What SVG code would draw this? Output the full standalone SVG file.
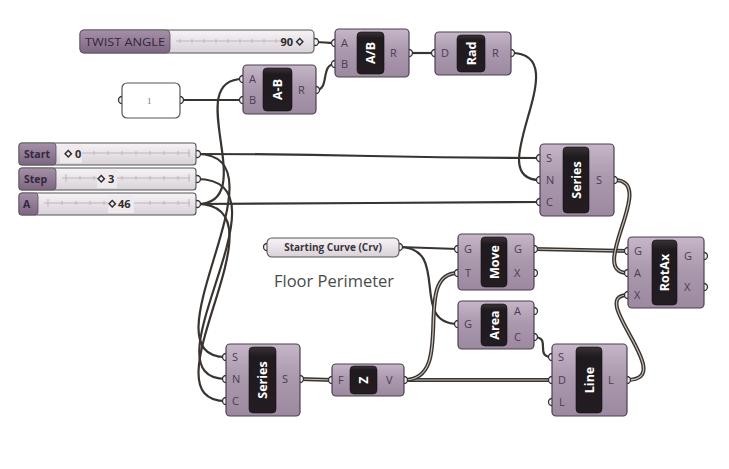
<svg xmlns="http://www.w3.org/2000/svg" width="729" height="469" viewBox="0 0 729 469">
<defs>
<linearGradient id="body" x1="0" y1="0" x2="0" y2="1">
<stop offset="0" stop-color="#c6b6c8"/><stop offset="0.45" stop-color="#ab99ae"/><stop offset="1" stop-color="#9c89a0"/>
</linearGradient>
<linearGradient id="blk" x1="0" y1="0" x2="0" y2="1">
<stop offset="0" stop-color="#3a3238"/><stop offset="0.15" stop-color="#1f1a1e"/><stop offset="1" stop-color="#231c21"/>
</linearGradient>
<linearGradient id="sld" x1="0" y1="0" x2="0" y2="1">
<stop offset="0" stop-color="#f6f3f6"/><stop offset="1" stop-color="#d9d2d9"/>
</linearGradient>
<linearGradient id="lab" x1="0" y1="0" x2="0" y2="1">
<stop offset="0" stop-color="#a690a9"/><stop offset="1" stop-color="#7d6682"/>
</linearGradient>
</defs>
<style>
.body{fill:url(#body);stroke:#4a4050;stroke-width:1.2}
.blk{fill:url(#blk);stroke:#111;stroke-width:0.6}
.grip{fill:#f4f2f4;stroke:#333;stroke-width:1.3}
.pin{font-family:"Open Sans","DejaVu Sans",sans-serif;font-size:11px;fill:#4b3b57}
.nm{font-family:"Open Sans","DejaVu Sans",sans-serif;font-size:12.5px;font-weight:bold;fill:#fff;text-anchor:middle;dominant-baseline:central}
.sl{fill:url(#sld);stroke:#555;stroke-width:1.1}
.lab{fill:url(#lab);stroke:#555;stroke-width:0.8}
.st{font-family:"Open Sans","DejaVu Sans",sans-serif;font-size:10.5px;font-weight:bold;fill:#33283a}
.val{font-family:"Open Sans","DejaVu Sans",sans-serif;font-size:11px;font-weight:bold;fill:#2e2a2e}
.dia{fill:none;stroke:#2e2a2e;stroke-width:1.4}
.tick{stroke:#b4acb4;stroke-width:0.8;fill:none}
.w{fill:none;stroke:#3a3431;stroke-width:2.2}
.wo{fill:none;stroke:#3a3431;stroke-width:4}
.wi{fill:none;stroke:#c9c1ba;stroke-width:1.2}
</style>
<rect width="729" height="469" fill="#ffffff"/>

<g id="connectors">
<path class="w" d="M315,42 C325,42 325,43 335,43"/>
<path class="w" d="M180,100 L243,100"/>
<path class="w" d="M316,90 C330,90 320,64 335,64"/>
<path class="w" d="M409,53 L435,53"/>
<path class="w" d="M511,53 C580,53 478,180 540,180"/>
<path class="w" d="M197,154 C370,154 370,158 540,158"/>
<path class="w" d="M197,204 C370,204 370,202 540,202"/>
<path class="w" d="M197,204 C262,204 180,79 243,79"/>
<path class="w" d="M197,154 C292,154 140,357 226,357"/>
<path class="w" d="M197,179 C298,179 140,379 226,379"/>
<path class="w" d="M197,204 C292,204 140,401 226,401"/>
<path class="w" d="M399,247 L458,249"/>
<path class="w" d="M399,247 C452,247 408,324 458,324"/>
<path class="w" d="M534,337 C552,337 534,357 552,357"/>
<g>
<path class="wo" d="M300,379 L332,380"/><path class="wi" d="M300,379 L332,380"/>
<path class="wo" d="M404,380 L552,380"/><path class="wi" d="M404,380 L552,380"/>
<path class="wo" d="M404,380 C458,380 410,273 458,273"/><path class="wi" d="M404,380 C458,380 410,273 458,273"/>
<path class="wo" d="M534,249 L628,251"/><path class="wi" d="M534,249 L628,251"/>
<path class="wo" d="M614,180 C660,180 585,273 628,273"/><path class="wi" d="M614,180 C660,180 585,273 628,273"/>
<path class="wo" d="M627,380 C680,380 585,295 628,295"/><path class="wi" d="M627,380 C680,380 585,295 628,295"/>
</g>
</g>

<g id="twist-angle">
<circle class="grip" cx="315" cy="42" r="3.5"/>
<rect class="sl" x="80" y="30" width="234" height="23" rx="4"/>
<rect class="lab" x="80" y="30" width="90" height="23" rx="4"/>
<text x="85" y="46" font-family="'Open Sans','DejaVu Sans',sans-serif" font-size="11.5" fill="#33283a" textLength="80" lengthAdjust="spacingAndGlyphs">TWIST ANGLE</text>
<path class="tick" d="M176,41 H286 M180,39 V43 M192,39 V43 M204,39 V43 M216,39 V43 M228,39 V43 M240,39 V43 M252,39 V43 M264,39 V43 M276,39 V43"/>
<text class="val" x="293" y="46" text-anchor="end">90</text>
<rect class="dia" x="297.5" y="39.5" width="4.5" height="4.5" transform="rotate(45 299.75 41.75)"/>
</g>

<g id="panel-1">
<circle class="grip" cx="122" cy="100" r="3.5"/>
<circle class="grip" cx="180" cy="100" r="3.5"/>
<rect x="122" y="83" width="58" height="35" rx="5" fill="#fff" stroke="#555" stroke-width="1.2"/>
<text x="147" y="104" font-family="'Liberation Serif',serif" font-size="9" fill="#777">1</text>
</g>

<g id="a-minus-b">
<circle class="grip" cx="243" cy="79" r="3.5"/><circle class="grip" cx="243" cy="100" r="3.5"/><circle class="grip" cx="316" cy="90" r="3.5"/>
<rect class="body" x="243" y="65" width="73" height="49" rx="4"/>
<rect class="blk" x="263" y="68" width="29" height="43" rx="4"/>
<text class="pin" x="249" y="83">A</text><text class="pin" x="249" y="104">B</text><text class="pin" x="298" y="94">R</text>
<text class="nm" transform="translate(277.5 89.5) rotate(-90)">A-B</text>
</g>

<g id="a-div-b">
<circle class="grip" cx="335" cy="43" r="3.5"/><circle class="grip" cx="335" cy="64" r="3.5"/><circle class="grip" cx="409" cy="53" r="3.5"/>
<rect class="body" x="335" y="29" width="74" height="48" rx="4"/>
<rect class="blk" x="357" y="32" width="27" height="42" rx="4"/>
<text class="pin" x="341" y="47">A</text><text class="pin" x="341" y="68">B</text><text class="pin" x="390" y="57">R</text>
<text class="nm" transform="translate(370.5 53) rotate(-90)">A/B</text>
</g>

<g id="rad">
<circle class="grip" cx="435" cy="53" r="3.5"/><circle class="grip" cx="511" cy="53" r="3.5"/>
<rect class="body" x="435" y="32" width="76" height="43" rx="4"/>
<rect class="blk" x="457" y="35" width="28" height="37" rx="4"/>
<text class="pin" x="441" y="57">D</text><text class="pin" x="492" y="57">R</text>
<text class="nm" transform="translate(471 53.5) rotate(-90)">Rad</text>
</g>

<g id="slider-start">
<circle class="grip" cx="197" cy="154" r="3.5"/>
<rect class="sl" x="19" y="143" width="177" height="22" rx="3"/>
<rect class="lab" x="19" y="143" width="37" height="22" rx="3"/>
<text class="st" x="24" y="158">Start</text>
<path class="tick" d="M62,153 H190 M80,151 V155 M94,151 V155 M108,151 V155 M122,151 V155 M136,151 V155 M150,151 V155 M164,151 V155 M178,151 V155 M189,149 V157"/>
<rect x="60" y="145" width="22" height="18" fill="#eeeaee"/>
<rect class="dia" x="66" y="151.5" width="4.5" height="4.5" transform="rotate(45 68.25 153.75)"/>
<text class="val" x="75" y="158">0</text>
</g>

<g id="slider-step">
<circle class="grip" cx="197" cy="179" r="3.5"/>
<rect class="sl" x="19" y="168" width="177" height="22" rx="3"/>
<rect class="lab" x="19" y="168" width="37" height="22" rx="3"/>
<text class="st" x="24" y="183">Step</text>
<path class="tick" d="M62,178 H190 M66,174 V182 M80,176 V180 M94,176 V180 M108,176 V180 M122,176 V180 M136,176 V180 M150,176 V180 M164,176 V180 M178,176 V180 M189,174 V182"/>
<rect x="97" y="170" width="20" height="18" fill="#eeeaee"/>
<rect class="dia" x="99" y="176.5" width="4.5" height="4.5" transform="rotate(45 101.25 178.75)"/>
<text class="val" x="108" y="183">3</text>
</g>

<g id="slider-a">
<circle class="grip" cx="197" cy="204" r="3.5"/>
<rect class="sl" x="19" y="193" width="177" height="22" rx="3"/>
<rect class="lab" x="19" y="193" width="19" height="22" rx="3"/>
<text class="st" x="23" y="208">A</text>
<path class="tick" d="M44,203 H190 M48,199 V207 M62,201 V205 M76,201 V205 M90,201 V205 M104,201 V205 M150,201 V205 M164,201 V205 M178,201 V205 M189,199 V207"/>
<rect x="108" y="195" width="26" height="18" fill="#eeeaee"/>
<rect class="dia" x="110" y="201.5" width="4.5" height="4.5" transform="rotate(45 112.25 203.75)"/>
<text class="val" x="118" y="208">46</text>
</g>

<g id="series-top">
<circle class="grip" cx="540" cy="158" r="3.5"/><circle class="grip" cx="540" cy="180" r="3.5"/><circle class="grip" cx="540" cy="202" r="3.5"/><circle class="grip" cx="614" cy="180" r="3.5"/>
<rect class="body" x="540" y="144" width="74" height="72" rx="4"/>
<rect class="blk" x="563" y="147" width="26" height="66" rx="4"/>
<text class="pin" x="546" y="162">S</text><text class="pin" x="546" y="184">N</text><text class="pin" x="546" y="206">C</text><text class="pin" x="596" y="184">S</text>
<text class="nm" transform="translate(576 180) rotate(-90)">Series</text>
</g>

<g id="starting-curve">
<circle class="grip" cx="267" cy="247" r="3.5"/><circle class="grip" cx="399" cy="247" r="3.5"/>
<rect class="sl" x="267" y="238" width="132" height="19" rx="5"/>
<text x="333" y="251" text-anchor="middle" font-family="'Open Sans','DejaVu Sans',sans-serif" font-size="10" font-weight="bold" fill="#3a343a">Starting Curve (Crv)</text>
</g>

<text x="274" y="287" font-family="'Open Sans','DejaVu Sans',sans-serif" font-size="16.5" fill="#4a4a4a">Floor Perimeter</text>

<g id="move">
<circle class="grip" cx="458" cy="249" r="3.5"/><circle class="grip" cx="458" cy="273" r="3.5"/><circle class="grip" cx="534" cy="249" r="3.5"/><circle class="grip" cx="534" cy="273" r="3.5"/>
<rect class="body" x="458" y="234" width="76" height="56" rx="4"/>
<rect class="blk" x="481" y="237" width="26" height="50" rx="4"/>
<text class="pin" x="464" y="253">G</text><text class="pin" x="465" y="277">T</text><text class="pin" x="514" y="253">G</text><text class="pin" x="514" y="277">X</text>
<text class="nm" transform="translate(494 262) rotate(-90)">Move</text>
</g>

<g id="area">
<circle class="grip" cx="458" cy="324" r="3.5"/><circle class="grip" cx="534" cy="311" r="3.5"/><circle class="grip" cx="534" cy="337" r="3.5"/>
<rect class="body" x="458" y="301" width="76" height="48" rx="4"/>
<rect class="blk" x="481" y="304" width="26" height="42" rx="4"/>
<text class="pin" x="464" y="328">G</text><text class="pin" x="514" y="315">A</text><text class="pin" x="514" y="341">C</text>
<text class="nm" transform="translate(494 325) rotate(-90)">Area</text>
</g>

<g id="rotax">
<circle class="grip" cx="628" cy="251" r="3.5"/><circle class="grip" cx="628" cy="273" r="3.5"/><circle class="grip" cx="628" cy="295" r="3.5"/><circle class="grip" cx="704" cy="256" r="3.5"/><circle class="grip" cx="704" cy="287" r="3.5"/>
<rect class="body" x="628" y="237" width="76" height="71" rx="4"/>
<rect class="blk" x="652" y="240" width="25" height="65" rx="4"/>
<text class="pin" x="634" y="255">G</text><text class="pin" x="634" y="277">A</text><text class="pin" x="634" y="299">X</text><text class="pin" x="684" y="260">G</text><text class="pin" x="684" y="291">X</text>
<text class="nm" transform="translate(664.5 272.5) rotate(-90)">RotAx</text>
</g>

<g id="series-bottom">
<circle class="grip" cx="226" cy="357" r="3.5"/><circle class="grip" cx="226" cy="379" r="3.5"/><circle class="grip" cx="226" cy="401" r="3.5"/><circle class="grip" cx="300" cy="379" r="3.5"/>
<rect class="body" x="226" y="344" width="74" height="72" rx="4"/>
<rect class="blk" x="249" y="347" width="27" height="66" rx="4"/>
<text class="pin" x="232" y="361">S</text><text class="pin" x="232" y="383">N</text><text class="pin" x="232" y="405">C</text><text class="pin" x="282" y="383">S</text>
<text class="nm" transform="translate(262.5 380) rotate(-90)">Series</text>
</g>

<g id="unit-z">
<circle class="grip" cx="332" cy="380" r="3.5"/><circle class="grip" cx="404" cy="380" r="3.5"/>
<rect class="body" x="332" y="364" width="72" height="32" rx="4"/>
<rect class="blk" x="350" y="366" width="27" height="28" rx="4"/>
<text class="pin" x="338" y="384">F</text><text class="pin" x="386" y="384">V</text>
<text class="nm" transform="translate(363.5 380) rotate(-90)">Z</text>
</g>

<g id="line">
<circle class="grip" cx="552" cy="357" r="3.5"/><circle class="grip" cx="552" cy="380" r="3.5"/><circle class="grip" cx="552" cy="402" r="3.5"/><circle class="grip" cx="627" cy="380" r="3.5"/>
<rect class="body" x="552" y="344" width="75" height="72" rx="4"/>
<rect class="blk" x="576" y="347" width="26" height="66" rx="4"/>
<text class="pin" x="558" y="361">S</text><text class="pin" x="558" y="384">D</text><text class="pin" x="559" y="406">L</text><text class="pin" x="608" y="384">L</text>
<text class="nm" transform="translate(589 380) rotate(-90)">Line</text>
</g>
</svg>
